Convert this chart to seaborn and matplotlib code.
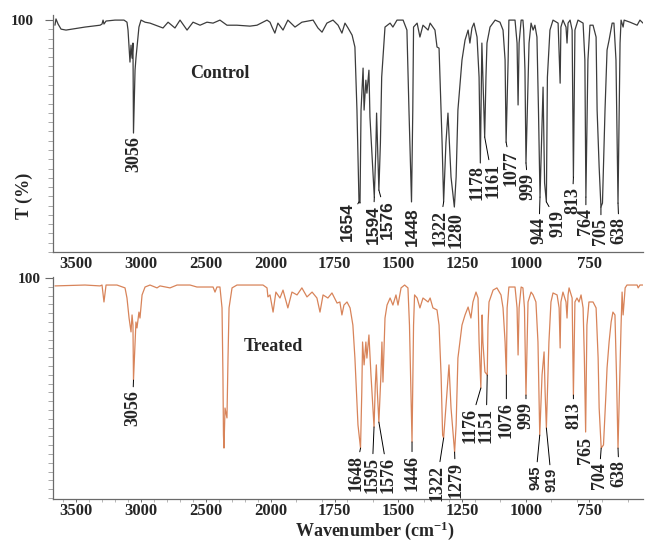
import numpy as np
import pandas as pd
import matplotlib
matplotlib.use("Agg")
import matplotlib.pyplot as plt
import matplotlib.ticker as mticker
import seaborn as sns

# ---------------- data ----------------
control_wn = [3660, 3652, 3636, 3613, 3575, 3529, 3429, 3313, 3298, 3290, 3283, 3267, 3198, 3129,
              3106, 3098, 3083, 3075, 3067, 3060, 3056, 3044, 3037, 3029, 3021, 3014, 2998, 2967,
              2929, 2829, 2790, 2737, 2698, 2644, 2598, 2544, 2491, 2444, 2391, 2337, 2260, 2160,
              2106, 2029, 2006, 1995, 1984, 1972, 1952, 1933, 1905, 1878, 1834, 1815, 1799, 1780,
              1756, 1736, 1721, 1709, 1697, 1681, 1670, 1662, 1654, 1650, 1646, 1638, 1634, 1627,
              1623, 1615, 1611, 1594, 1588, 1585, 1576, 1570, 1565, 1556, 1552, 1532, 1521, 1505,
              1481, 1466, 1458, 1448, 1443, 1440, 1426, 1415, 1403, 1383, 1375, 1356, 1348, 1340,
              1328, 1322, 1313, 1305, 1293, 1280, 1273, 1266, 1250, 1238, 1226, 1219, 1211, 1203,
              1191, 1183, 1178, 1172, 1168, 1161, 1156, 1152, 1140, 1120, 1101, 1089, 1081, 1077,
              1069, 1066, 1042, 1034, 1030, 1026, 1018, 1011, 1008, 1003, 999, 987, 979, 971, 964,
              956, 950, 944, 932, 926, 919, 915, 905, 893, 873, 865, 862, 854, 842, 838, 834, 826,
              818, 813, 807, 795, 775, 768, 764, 756, 748, 736, 724, 720, 712, 705, 699, 689, 681,
              673, 661, 654, 646, 638, 630, 626, 618, 614, 591, 563, 552, 540]
control_t = [97.8, 100.5, 98.3, 96.1, 95.7, 96.1, 97.0, 97.8, 98.3, 100, 98.3, 99.6, 100, 100,
             99.1, 95.7, 81.9, 89.2, 83.6, 90.1, 51.3, 78.4, 83.6, 88.4, 93.5, 97.0, 100, 99.1,
             98.7, 96.6, 99.1, 96.6, 100, 95.7, 99.1, 97.8, 99.1, 98.7, 100, 97.8, 97.8, 97.4,
             97.8, 100, 99.1, 97.0, 94.4, 98.7, 95.7, 100, 97.0, 99.1, 100, 96.6, 94.8, 98.7,
             100, 97.8, 94.4, 98.7, 96.6, 93.5, 88.4, 61.2, 21.6, 21.1, 61.2, 79.3, 61.2, 74.1,
             68.5, 78.4, 58.2, 23.7, 44.0, 59.9, 26.7, 47.0, 75.4, 90.1, 97.0, 98.7, 97.0, 100,
             100, 95.7, 61.2, 21.6, 61.2, 97.0, 98.7, 92.7, 97.8, 95.7, 98.7, 95.7, 88.4, 87.9,
             47.0, 21.6, 47.0, 59.9, 32.3, 19.4, 32.3, 61.2, 82.8, 91.4, 95.7, 90.1, 96.6, 98.7,
             92.7, 75.4, 38.4, 90.1, 75.4, 49.6, 75.4, 90.1, 97.0, 100, 99.1, 95.7, 82.8, 47.4,
             82.8, 100, 100, 90.1, 63.4, 90.1, 100, 100, 95.7, 78.4, 38.4, 90.1, 98.7, 95.7, 97.8,
             92.7, 61.2, 23.7, 71.1, 29.7, 21.6, 75.4, 95.7, 100, 98.7, 72.8, 97.0, 100, 97.0, 90.1, 98.7, 100,
             95.7, 32.3, 95.7, 100, 98.7, 82.8, 23.7, 82.8, 97.8, 97.8, 92.7, 61.2, 36.6, 19.4, 21.1, 61.2, 87.1,
             91.4, 98.7, 98.7, 82.8, 21.1, 90.1, 100, 97.0, 100, 99.1, 97.8, 100, 98.7]

treated_wn = [3660, 3429, 3313, 3298, 3283, 3267, 3183, 3121, 3106, 3090, 3075, 3067, 3060, 3056,
              3037, 3029, 3014, 3006, 2990, 2967, 2929, 2875, 2852, 2775, 2721, 2621, 2568, 2444,
              2429, 2414, 2391, 2375, 2368, 2364, 2360, 2352, 2337, 2329, 2321, 2298, 2260, 2060,
              2029, 2022, 2006, 1991, 1980, 1964, 1952, 1933, 1917, 1897, 1878, 1858, 1838, 1819,
              1807, 1795, 1776, 1760, 1740, 1729, 1721, 1713, 1701, 1689, 1678, 1670, 1658, 1648,
              1643, 1640, 1634, 1627, 1623, 1615, 1607, 1595, 1590, 1586, 1582, 1576, 1568, 1564,
              1560, 1552, 1544, 1532, 1521, 1509, 1501, 1489, 1475, 1462, 1456, 1446, 1440, 1436,
              1426, 1415, 1403, 1383, 1375, 1364, 1348, 1340, 1332, 1326, 1322, 1309, 1301, 1293,
              1279, 1273, 1266, 1250, 1238, 1226, 1215, 1207, 1195, 1187, 1183, 1176, 1171, 1168,
              1160, 1151, 1148, 1144, 1128, 1113, 1097, 1089, 1081, 1076, 1073, 1066, 1042, 1034,
              1030, 1026, 1018, 1011, 1005, 999, 991, 979, 971, 960, 952, 945, 936, 928, 924, 919,
              909, 901, 893, 877, 869, 865, 862, 854, 842, 838, 834, 830, 818, 813, 807, 799, 791,
              783, 775, 770, 765, 760, 752, 736, 724, 716, 712, 704, 695, 685, 681, 673, 665, 658,
              650, 644, 638, 626, 622, 618, 610, 603, 563, 559, 552, 540]
treated_t = [96.4, 96.8, 96.4, 96.8, 89.1, 96.8, 96.8, 95.5, 90.9, 81.8, 75.5, 83.2, 78.6, 53.6,
             80.0, 77.3, 84.5, 81.8, 92.3, 95.9, 96.8, 95.5, 96.4, 95.5, 96.8, 96.8, 95.9, 95.9,
             93.6, 95.9, 95.9, 86.4, 55.9, 28.6, 22.7, 40.9, 36.4, 63.6, 86.4, 95.5, 96.8, 96.8,
             95.5, 91.4, 92.3, 84.5, 93.6, 90.9, 94.5, 86.4, 93.6, 92.3, 95.5, 91.4, 93.6, 90.9,
             84.5, 92.3, 90.9, 93.2, 88.6, 89.1, 83.2, 87.7, 89.1, 86.4, 78.6, 63.6, 33.2, 22.7,
             48.2, 70.9, 60.5, 70.9, 63.6, 74.1, 55.9, 32.3, 51.4, 60.5, 48.2, 34.5, 55.9, 70.9,
             52.7, 81.8, 87.7, 90.9, 87.7, 92.3, 87.7, 95.5, 96.8, 95.5, 78.6, 25.5, 78.6, 92.3,
             90.9, 86.4, 90.9, 89.1, 90.9, 86.4, 85.5, 78.6, 55.9, 28.6, 27.3, 48.2, 60.5, 40.9,
             20.9, 33.2, 63.6, 78.6, 83.2, 86.8, 81.8, 89.1, 93.6, 90.9, 70.9, 50.0, 83.2, 70.9,
             57.3, 55.9, 78.6, 89.1, 94.5, 95.5, 92.3, 86.4, 70.9, 55.9, 86.4, 95.9, 95.9, 86.4,
             65.0, 86.4, 95.9, 95.5, 86.4, 46.8, 89.1, 93.6, 92.3, 89.1, 70.9, 28.6, 55.9, 66.4, 48.2, 31.8,
             70.9, 89.1, 93.2, 92.3, 86.4, 68.2, 89.1, 93.6, 89.1, 81.8, 92.3, 95.5, 90.9, 46.8, 89.1, 90.9, 89.1,
             92.3, 86.4, 63.6, 30.0, 78.6, 89.1, 89.1, 86.4, 63.6, 40.9, 22.7, 24.1, 48.2, 59.1, 70.9, 80.0, 84.5,
             83.2, 55.9, 22.7, 78.6, 93.6, 83.2, 95.5, 96.8, 96.8, 95.5, 96.8, 96.8]

control_peaks = [3056, 1654, 1594, 1576, 1448, 1322, 1280, 1178, 1161, 1077, 999, 944, 919, 813, 764, 705, 638]
treated_peaks = [3056, 1648, 1595, 1576, 1446, 1322, 1279, 1176, 1151, 1076, 999, 945, 919, 813, 765, 704, 638]
x_tick_labels = [3500, 3000, 2500, 2000, 1750, 1500, 1250, 1000, 750]

# ---------------- layout / style ----------------
control_offsets = [(0, -3), (-12, 0), (-1, -8), (8, -10), (1, -5), (-4, -8), (2, -5), (-3, -2),
                   (8, -26), (5, -8), (2, -10), (-1, -20), (12, -8), (-1, -10), (0, -11), (0, -11), (1, -14)]
treated_offsets = [(-1, -10), (-5, -7), (-2, -30), (9, -35), (0, -13), (-7, -27), (1, -10), (-11, -20),
                   (-1, -33), (0, -27), (0, -7), (-4, -30), (5, -40), (0, -7), (0, -5), (-2, -14), (1, -12)]
control_sans = {1654, 1594, 1576, 1448}
treated_sans = {945, 919}
small_labels = {945: 10.5, 919: 10.5}

sns.set_theme(style="white")
plt.rcParams['font.family'] = ['Liberation Serif', 'DejaVu Serif']
plt.rcParams['font.weight'] = 'bold'
plt.rcParams['mathtext.fontset'] = 'custom'
plt.rcParams['mathtext.rm'] = 'Liberation Serif:bold'
plt.rcParams['mathtext.it'] = 'Liberation Serif:bold'
plt.rcParams['mathtext.bf'] = 'Liberation Serif:bold'

BREAK = 2000.0
RATIO = 0.51


def fwd(w):
    w = np.asarray(w, dtype=float)
    return np.where(w > BREAK, BREAK + (w - BREAK) * RATIO, w)


def inv(u):
    u = np.asarray(u, dtype=float)
    return np.where(u > BREAK, BREAK + (u - BREAK) / RATIO, u)


W, H = 648, 545
fig = plt.figure(figsize=(W / 100, H / 100), dpi=100)
ax1 = fig.add_axes([53 / W, 1 - 252 / H, 590 / W, 237 / H])
ax2 = fig.add_axes([53 / W, 1 - 499 / H, 590 / W, 222 / H])
ax1.patch.set_visible(False)
ax2.patch.set_visible(False)

df_c = pd.DataFrame({"wn": control_wn, "T": control_t})
df_t = pd.DataFrame({"wn": treated_wn, "T": treated_t})

sns.lineplot(data=df_c, x="wn", y="T", ax=ax1, color="#3c3c3c", linewidth=0.9,
             estimator=None, sort=False)
sns.lineplot(data=df_t, x="wn", y="T", ax=ax2, color="#d8845a", linewidth=0.9,
             estimator=None, sort=False)

spine_col = "#6a6a6a"
for ax, ylim in ((ax1, (0, 102.2)), (ax2, (-0.45, 100.45))):
    ax.set_xscale("function", functions=(fwd, inv))
    ax.set_xlim(3675, 540)
    ax.set_ylim(*ylim)
    ax.set_xlabel("")
    ax.set_ylabel("")
    for s in ("top", "right"):
        ax.spines[s].set_visible(False)
    for s in ("left", "bottom"):
        ax.spines[s].set_color(spine_col)
        ax.spines[s].set_linewidth(0.9)
    ax.xaxis.set_major_locator(mticker.FixedLocator(x_tick_labels))
    ax.xaxis.set_major_formatter(mticker.FormatStrFormatter("%d"))
    ax.yaxis.set_major_locator(mticker.FixedLocator([100]))
    ax.yaxis.set_major_formatter(mticker.FormatStrFormatter("%d"))
    ax.yaxis.set_minor_locator(mticker.MultipleLocator(4))
    ax.tick_params(axis="y", which="major", left=True, length=6, width=0.8,
                   color=spine_col, labelsize=11)
    ax.tick_params(axis="y", which="minor", left=True, length=3.5, width=0.6, color="#9a9a9a")

ax1.tick_params(axis="x", which="both", bottom=False, length=0, labelsize=12, pad=3)
ax1.tick_params(axis="y", which="major", pad=8)
ax2.xaxis.set_minor_locator(mticker.MultipleLocator(100))
ax2.tick_params(axis="x", which="major", bottom=True, length=2.5, width=0.7, color=spine_col,
                labelsize=12, pad=0.5)
ax2.tick_params(axis="x", which="minor", bottom=True, length=1.8, width=0.5, color="#9a9a9a")
ax2.tick_params(axis="y", which="major", pad=3)
for ax in (ax1, ax2):
    for lab in ax.get_xticklabels() + ax.get_yticklabels():
        lab.set_fontweight("bold")

ax1.set_ylabel("T (%)", fontsize=13, fontweight="bold")
ax1.yaxis.set_label_coords(-0.034, 0.236)

ax1.text(0.283, 0.755, "Control", transform=ax1.transAxes, ha="center", va="center",
         fontsize=13, fontweight="bold")
ax2.text(0.373, 0.685, "Treated", transform=ax2.transAxes, ha="center", va="center",
         fontsize=13, fontweight="bold")
fig.text(375 / W, 1 - 531 / H, "Wavenumber (cm$^{-1}$)", ha="center", va="center",
         fontsize=13, fontweight="bold")


def label_peaks(ax, wn, t, peaks, offsets, sans):
    wa = np.asarray(wn, dtype=float)[::-1]
    ta = np.asarray(t, dtype=float)[::-1]
    for p, (dx, dy) in zip(peaks, offsets):
        y = float(np.interp(p, wa, ta))
        fam = ["Liberation Sans", "DejaVu Sans"] if p in sans else ["Liberation Serif", "DejaVu Serif"]
        size = small_labels.get(p, 12.5 if p in sans else 13) if ax is ax2 else (12.5 if p in sans else 13)
        kw = {}
        if np.hypot(dx, dy) > 6:
            kw["arrowprops"] = dict(arrowstyle="-", color="black", lw=0.7, shrinkA=0, shrinkB=0)
        ax.annotate(str(p), xy=(p, y), xytext=(dx, dy), textcoords="offset pixels",
                    rotation=90, ha="center", va="top", fontsize=size,
                    fontweight="bold", family=fam, annotation_clip=False, **kw)


label_peaks(ax1, control_wn, control_t, control_peaks, control_offsets, control_sans)
label_peaks(ax2, treated_wn, treated_t, treated_peaks, treated_offsets, treated_sans)

fig.savefig("out.png", dpi=100)
